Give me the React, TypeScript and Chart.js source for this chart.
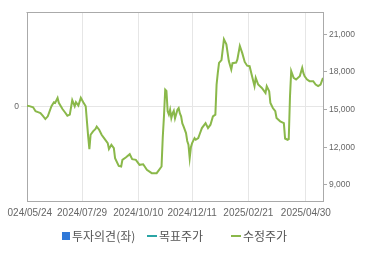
import React, { useEffect, useRef } from 'react';
import { Chart, registerables } from 'chart.js';

Chart.register(...registerables);

const tickIndex = [0, 45, 91, 135, 181, 228];
const tickLabels = ['2024/05/24', '2024/07/29', '2024/10/10', '2024/12/11', '2025/02/21', '2025/04/30'];
const priceTicks = [9000, 12000, 15000, 18000, 21000];
const opinionTicks = [0];

const dayIndex = [
  0, 2, 5, 7, 9, 11, 13, 15, 17, 20, 22, 23, 25, 26, 29, 31, 33, 35, 37, 39, 40, 42, 44, 46, 48, 49, 50, 51, 52, 54,
  56, 57, 59, 61, 63, 66, 67, 69, 71, 72, 75, 77, 78, 81, 84, 86, 89, 92, 95, 98, 102, 106, 108, 110, 111, 112, 113,
  114, 115, 116, 117, 118, 119, 120, 121, 123, 124, 125, 126, 127, 128, 130, 131, 132, 133, 134, 135, 137, 138, 140,
  141, 143, 146, 148, 150, 152, 154, 155, 156, 157, 159, 161, 163, 165, 167, 168, 171, 172, 174, 176, 178, 180, 182,
  184, 186, 187, 189, 192, 195, 196, 198, 199, 201, 203, 204, 207, 210, 211, 213, 214, 215, 216, 218, 220, 223, 225,
  226, 227, 229, 231, 234, 236, 238, 240, 242,
];
const adjPrice = [
  15320, 15280, 15190, 14870, 14800, 14730, 14500, 14250, 14470, 15270, 15590, 15540, 15930, 15540, 15050, 14790,
  14520, 14600, 15750, 15270, 15590, 15320, 15940, 15590, 15270, 14070, 12870, 11860, 13000, 13270, 13460, 13650,
  13400, 13000, 12730, 12330, 11860, 12200, 11930, 11130, 10520, 10470, 11000, 11200, 11450, 11050, 11000, 10600,
  10650, 10200, 9940, 9940, 10200, 10470, 12800, 14500, 16600, 16500, 14870, 14600, 15000, 14330, 14700, 14900, 14300,
  15000, 15130, 14700, 14470, 13900, 13670, 13130, 12500, 12200, 11130, 12000, 12330, 12730, 12600, 12730, 13000,
  13530, 13930, 13530, 13800, 14460, 14600, 17000, 17930, 18730, 18950, 20600, 20200, 18870, 18200, 18700, 18750,
  19000, 20070, 19500, 18800, 18500, 18460, 17660, 16870, 17530, 17000, 16730, 16330, 16870, 16470, 15530, 15130,
  14870, 14330, 14070, 13930, 12700, 12600, 12650, 16000, 18070, 17530, 17400, 17660, 18330, 17900, 17660, 17400,
  17270, 17270, 17000, 16870, 17000, 17530,
];
const targetPrice: number[] = [];

const LABEL_FONT = "'Liberation Sans', Arial, sans-serif";
const LEGEND_FONT = "'Noto Sans CJK KR', 'Noto Sans', sans-serif";

const frame = {
  id: 'frame',
  afterLayout(chart: any) {
    const s = chart.scales.x;
    if (s && !s.__clipped) {
      const orig = s.drawLabels.bind(s);
      s.drawLabels = (area: any) => {
        const ctx = chart.ctx;
        ctx.save();
        ctx.beginPath();
        ctx.rect(7, 0, chart.width, chart.height);
        ctx.clip();
        orig(area);
        ctx.restore();
      };
      s.__clipped = true;
    }
  },
  afterDraw(chart: any) {
    const { ctx, chartArea } = chart;
    ctx.save();
    ctx.strokeStyle = '#aaaaaa';
    ctx.lineWidth = 1;
    ctx.beginPath();
    ctx.moveTo(Math.round(chartArea.left) - 0.5, Math.round(chartArea.top) + 0.5);
    ctx.lineTo(Math.round(chartArea.right) + 0.5, Math.round(chartArea.top) + 0.5);
    ctx.stroke();
    ctx.restore();
  },
};

export default function App() {
  const ref = useRef<HTMLCanvasElement>(null);

  useEffect(() => {
    if (!ref.current) return;
    const chart = new Chart(ref.current, {
      type: 'line',
      data: {
        datasets: [
          {
            label: '목표주가',
            data: targetPrice,
            yAxisID: 'yR',
            borderColor: '#2aa5a5',
            borderWidth: 2,
            pointRadius: 0,
          },
          {
            label: '수정주가',
            data: dayIndex.map((d, i) => ({ x: d, y: adjPrice[i] })),
            yAxisID: 'yR',
            borderColor: '#8ab84a',
            borderWidth: 2,
            pointRadius: 0,
            tension: 0,
          },
        ],
      },
      options: {
        animation: false,
        responsive: false,
        maintainAspectRatio: false,
        layout: { padding: { top: 12, left: 0, right: 0, bottom: 0 } },
        plugins: { legend: { display: false }, tooltip: { enabled: false } },
        scales: {
          x: {
            type: 'linear',
            min: 0,
            max: 242,
            offset: false,
            afterBuildTicks: (s: any) => {
              s.ticks = tickIndex.map((v) => ({ value: v }));
            },
            afterFit: (s: any) => {
              s.height = 54;
              s.paddingLeft = 0;
              s.paddingRight = 0;
            },
            ticks: {
              autoSkip: false,
              maxRotation: 0,
              padding: 6,
              color: '#666',
              font: { size: 10, family: LABEL_FONT },
              callback: (v: any) => {
                const i = tickIndex.indexOf(Number(v));
                return i >= 0 ? tickLabels[i] : '';
              },
            },
            grid: { color: '#e6e6e6', drawTicks: false },
            border: { color: '#aaaaaa' },
          },
          yL: {
            position: 'left',
            min: -1,
            max: 1,
            afterBuildTicks: (s: any) => {
              s.ticks = opinionTicks.map((v) => ({ value: v }));
            },
            afterFit: (s: any) => {
              s.width = 27;
            },
            ticks: { padding: 2, color: '#666', font: { size: 8.5, family: LABEL_FONT } },
            grid: { color: '#e6e6e6', tickLength: 6 },
            border: { color: '#aaaaaa' },
          },
          yR: {
            position: 'right',
            min: 7720,
            max: 22780,
            afterBuildTicks: (s: any) => {
              s.ticks = priceTicks.map((v) => ({ value: v }));
            },
            afterFit: (s: any) => {
              s.width = 47;
            },
            ticks: {
              padding: 2,
              color: '#666',
              font: { size: 8.5, family: LABEL_FONT },
              callback: (v: any) => Number(v).toLocaleString('en-US'),
            },
            grid: { drawOnChartArea: false, tickLength: 4, color: '#aaaaaa' },
            border: { color: '#aaaaaa' },
          },
        },
      } as any,
      plugins: [frame],
    });
    return () => chart.destroy();
  }, []);

  const text: React.CSSProperties = {
    position: 'absolute',
    top: 229,
    fontSize: 12,
    lineHeight: '14px',
    color: '#555',
    fontFamily: LEGEND_FONT,
    whiteSpace: 'nowrap',
  };

  return (
    <div style={{ position: 'fixed', left: 0, top: 0, width: 370, height: 255, background: '#fff', overflow: 'hidden' }}>
      <canvas ref={ref} width={370} height={255} style={{ position: 'absolute', left: 0, top: 0, width: 370, height: 255 }} />
      <div style={{ position: 'absolute', left: 62, top: 232, width: 8, height: 8, background: '#2f78d8' }} />
      <span style={{ ...text, left: 72 }}>투자의견(좌)</span>
      <div style={{ position: 'absolute', left: 147, top: 235, width: 10, height: 2, background: '#2aa5a5' }} />
      <span style={{ ...text, left: 159 }}>목표주가</span>
      <div style={{ position: 'absolute', left: 231, top: 235, width: 10, height: 2, background: '#8ab84a' }} />
      <span style={{ ...text, left: 243 }}>수정주가</span>
    </div>
  );
}
